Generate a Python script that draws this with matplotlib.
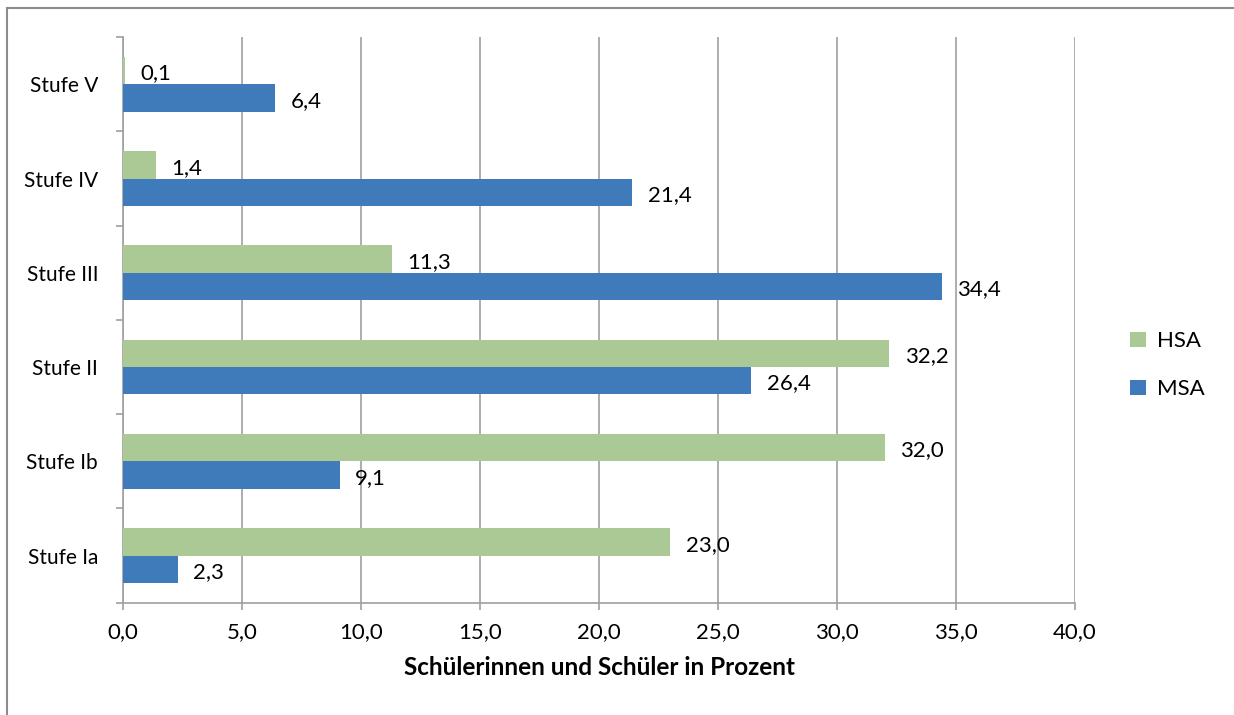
import numpy as np
import matplotlib
matplotlib.use("Agg")
import matplotlib.pyplot as plt
from matplotlib.lines import Line2D

plt.rcParams['font.family'] = ['Lato', 'DejaVu Sans']

stufen = ["Stufe Ia", "Stufe Ib", "Stufe II", "Stufe III", "Stufe IV", "Stufe V"]
hsa = [23.0, 32.0, 32.2, 11.3, 1.4, 0.1]
msa = [2.3, 9.1, 26.4, 34.4, 21.4, 6.4]
xticks = [0, 5, 10, 15, 20, 25, 30, 35, 40]

green = "#abc995"
blue = "#3f7bbb"
grid_c = "#a0a0a0"

fig = plt.figure(figsize=(12.34, 7.15), dpi=100)
ax = fig.add_axes([0.0997, 0.157, 0.7715, 0.791])

y = np.arange(len(stufen))
h = 0.29
b_hsa = ax.barh(y + h/2, hsa, height=h, color=green, label="HSA", zorder=3)
b_msa = ax.barh(y - h/2, msa, height=h, color=blue, label="MSA", zorder=3)

def fmt(v):
    return "{:.1f}".format(v).replace(".", ",")

for bars, vals in [(b_hsa, hsa), (b_msa, msa)]:
    for r, v in zip(bars, vals):
        ax.annotate(fmt(v), (v, r.get_y() + r.get_height()/2), xytext=(11, -2),
                    textcoords="offset points", va="center", ha="left", fontsize=16)

ax.set_xlim(0, 40)
ax.set_ylim(-0.5, len(stufen) - 0.5)
ax.set_xticks(xticks)
ax.set_xticklabels([fmt(t) for t in xticks], fontsize=16)
ax.set_yticks(np.arange(-0.5, len(stufen), 1.0))
ax.set_yticklabels([])
ax.set_yticks(y, minor=True)
ax.set_yticklabels(stufen, minor=True, fontsize=15)
ax.tick_params(axis="y", which="minor", length=0, pad=18)
ax.tick_params(axis="y", which="major", length=5, color=grid_c, width=1.2)
ax.tick_params(axis="x", length=5, color=grid_c, width=1.2, pad=9)
ax.grid(axis="x", color=grid_c, lw=1.2, zorder=0)
for s in ["top", "right"]:
    ax.spines[s].set_visible(False)
for s in ["left", "bottom"]:
    ax.spines[s].set_color(grid_c)
    ax.spines[s].set_linewidth(1.2)

ax.set_xlabel("Schülerinnen und Schüler in Prozent", fontsize=17.5, fontweight="bold", labelpad=10)

ax.legend(loc="center left", bbox_to_anchor=(1.037, 0.42), frameon=False, fontsize=16,
          handlelength=0.7, handleheight=0.7, labelspacing=1.25, handletextpad=0.5)

# outer frame, only top and left edges visible in the reference
fig.add_artist(Line2D([0.006, 1.0], [0.989, 0.989], transform=fig.transFigure,
                      color="#8c8c8c", lw=1.5))
fig.add_artist(Line2D([0.006, 0.006], [0.0, 0.989], transform=fig.transFigure,
                      color="#8c8c8c", lw=1.5))

fig.savefig("out.png", dpi=100)
